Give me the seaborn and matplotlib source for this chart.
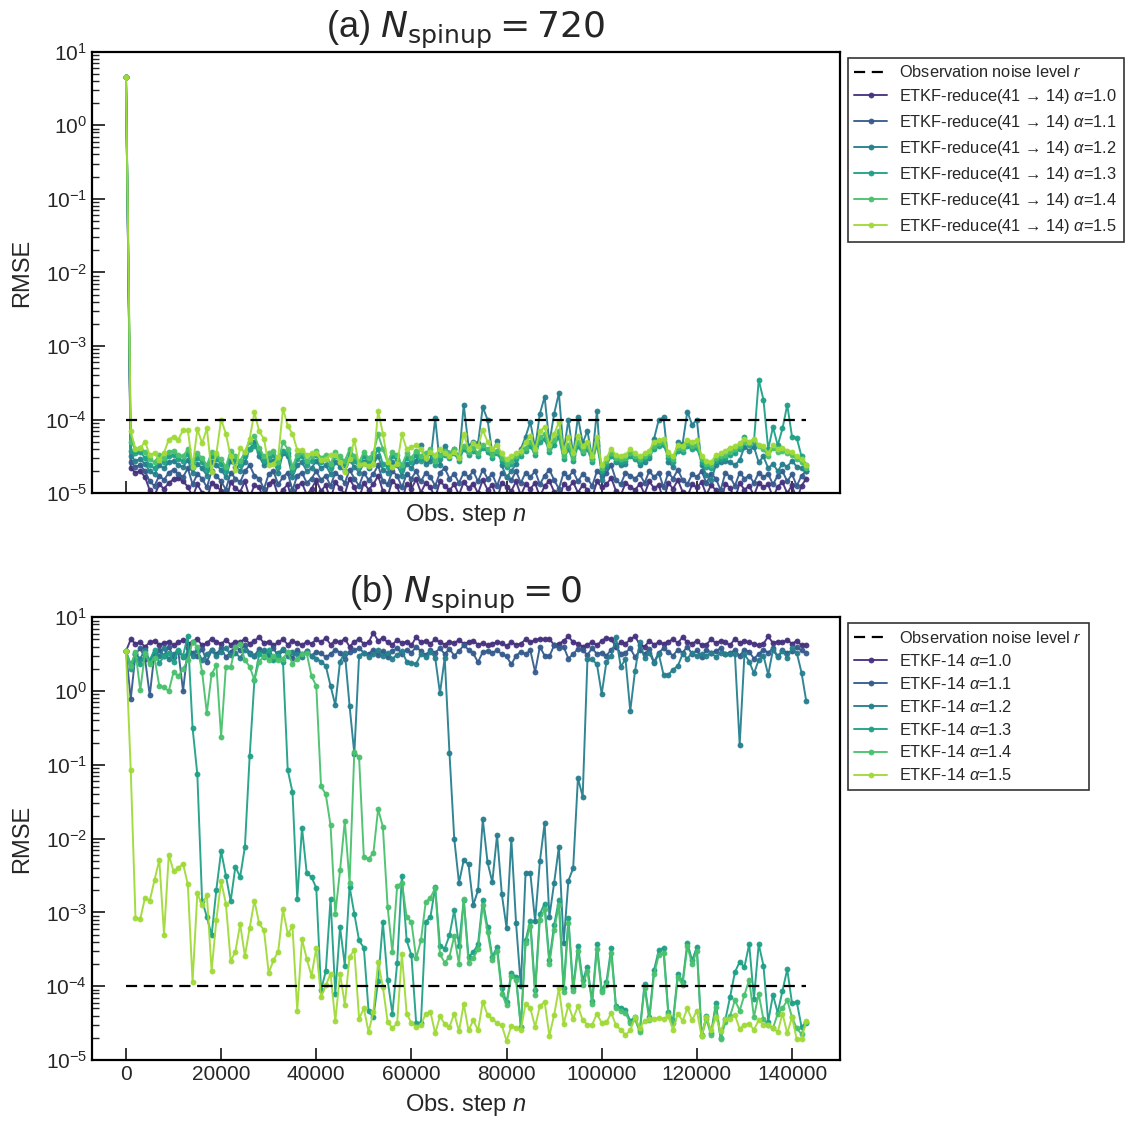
import numpy as np
import pandas as pd
import matplotlib
matplotlib.use("Agg")
import matplotlib.pyplot as plt
import seaborn as sns
from matplotlib.ticker import LogLocator, NullFormatter, FixedLocator

# ── data: log10(RMSE), one point every 1000 observation steps ────────────────
STEP = 1000
TICK_STEP = 20000
ALPHAS = [1.0, 1.1, 1.2, 1.3, 1.4, 1.5]
NOISE_LEVEL = 1e-4

# (a) N_spinup = 720, ETKF-reduce(41 -> 14)
a_10 = [0.66, -4.66, -4.72, -4.70, -4.78, -4.96, -5.03, -4.88, -4.94, -4.86, -4.81, -4.79,
        -4.84, -4.91, -5.05, -4.88, -4.99, -5.08, -4.86, -4.90, -4.97, -5.12, -4.85, -4.93,
        -4.98, -4.84, -5.06, -4.89, -4.92, -5.10, -4.87, -4.83, -5.04, -4.95, -4.88, -5.13,
        -4.90, -4.86, -5.02, -4.94, -4.82, -4.97, -4.89, -5.09, -4.85, -4.93, -5.01, -4.80,
        -4.92, -5.07, -4.86, -4.95, -4.88, -4.76, -4.97, -5.04, -4.83, -4.90, -5.11, -4.87,
        -4.94, -4.81, -4.99, -4.86, -4.92, -5.06, -4.84, -4.90, -4.96, -4.88, -5.02, -4.85,
        -4.93, -4.87, -5.00, -4.82, -4.95, -4.89, -5.08, -4.86, -4.91, -4.97, -4.84, -5.03,
        -4.88, -4.94, -4.86, -5.05, -4.90, -4.83, -4.98, -5.12, -4.87, -4.93, -4.85, -4.99,
        -4.89, -4.95, -5.06, -4.84, -4.92, -4.88, -4.79, -4.97, -5.03, -4.86, -4.91, -4.96,
        -4.87, -5.01, -4.84, -4.93, -4.89, -5.10, -4.86, -4.94, -4.82, -4.98, -5.05, -4.88,
        -4.92, -4.85, -5.02, -4.89, -4.96, -5.14, -4.87, -4.93, -5.08, -4.86, -4.95, -4.90,
        -5.03, -4.86, -4.92, -4.88, -5.06, -4.91, -4.85, -5.00, -4.89, -5.09, -4.90, -4.80]
a_11 = [0.66, -4.58, -4.64, -4.62, -4.70, -4.84, -4.90, -4.76, -4.82, -4.72, -4.68, -4.74,
        -4.78, -4.66, -4.88, -4.74, -4.80, -4.92, -4.70, -4.76, -4.84, -4.95, -4.72, -4.80,
        -4.85, -4.70, -4.62, -4.76, -4.80, -4.94, -4.74, -4.70, -4.88, -4.78, -4.72, -4.96,
        -4.76, -4.72, -4.86, -4.80, -4.70, -4.82, -4.76, -4.90, -4.72, -4.78, -4.86, -4.68,
        -4.80, -4.90, -4.72, -4.82, -4.74, -4.62, -4.84, -4.88, -4.70, -4.76, -4.92, -4.74,
        -4.80, -4.70, -4.84, -4.72, -4.78, -4.90, -4.72, -4.66, -4.80, -4.74, -4.86, -4.72,
        -4.78, -4.70, -4.84, -4.68, -4.80, -4.74, -4.90, -4.72, -4.78, -4.82, -4.70, -4.86,
        -4.72, -4.78, -4.70, -4.88, -4.76, -4.68, -4.82, -4.94, -4.72, -4.78, -4.70, -4.84,
        -4.74, -4.80, -4.90, -4.70, -4.76, -4.72, -4.62, -4.82, -4.88, -4.72, -4.76, -4.80,
        -4.74, -4.86, -4.70, -4.78, -4.72, -4.92, -4.72, -4.80, -4.68, -4.82, -4.88, -4.74,
        -4.78, -4.70, -4.86, -4.74, -4.80, -4.96, -4.72, -4.78, -4.90, -4.72, -4.80, -4.76,
        -4.86, -4.72, -4.78, -4.74, -4.88, -4.76, -4.70, -4.84, -4.74, -4.90, -4.76, -4.70]
a_12 = [0.66, -4.50, -4.56, -4.54, -4.60, -4.70, -4.74, -4.62, -4.66, -4.58, -4.56, -4.62,
        -4.64, -4.55, -4.72, -4.60, -4.66, -4.76, -4.58, -4.62, -4.68, -4.78, -4.56, -4.64,
        -4.70, -4.58, -4.40, -4.30, -4.50, -4.62, -4.58, -4.56, -4.72, -4.45, -4.50, -4.78,
        -4.62, -4.58, -4.70, -4.66, -4.56, -4.66, -4.62, -4.74, -4.58, -4.64, -4.70, -4.55,
        -4.64, -4.72, -4.58, -4.66, -4.60, -4.50, -4.68, -4.72, -4.58, -4.62, -4.76, -4.60,
        -4.66, -4.56, -4.35, -4.60, -4.56, -3.98, -4.62, -4.36, -4.46, -4.40, -4.52, -3.80,
        -4.36, -4.30, -4.32, -3.83, -4.00, -4.45, -4.29, -4.62, -4.78, -4.70, -4.60, -4.40,
        -4.23, -4.03, -4.39, -3.92, -3.69, -4.32, -3.92, -3.64, -4.44, -4.00, -4.48, -3.96,
        -4.32, -4.15, -4.53, -3.88, -4.82, -4.64, -4.44, -4.57, -4.62, -4.60, -4.45, -4.52,
        -4.62, -4.58, -4.52, -4.26, -4.00, -3.97, -4.58, -4.64, -4.31, -4.33, -3.89, -4.07,
        -4.00, -4.62, -4.75, -4.82, -4.62, -4.58, -4.56, -4.58, -4.62, -4.55, -4.37, -4.42,
        -4.37, -4.58, -4.50, -4.66, -4.60, -4.70, -4.60, -4.64, -4.56, -4.64, -4.66, -4.70]
a_13 = [0.66, -4.42, -4.46, -4.44, -4.52, -4.62, -4.66, -4.55, -4.58, -4.50, -4.48, -4.54,
        -4.56, -4.47, -4.64, -4.52, -4.58, -4.68, -4.50, -4.54, -4.60, -4.70, -4.48, -4.56,
        -4.62, -4.50, -4.40, -4.36, -4.44, -4.56, -4.52, -4.48, -4.64, -4.42, -4.46, -4.70,
        -4.54, -4.50, -4.62, -4.56, -4.48, -4.58, -4.54, -4.66, -4.50, -4.56, -4.62, -4.47,
        -4.56, -4.64, -4.50, -4.58, -4.52, -4.40, -4.60, -4.64, -4.50, -4.54, -4.68, -4.52,
        -4.58, -4.48, -4.56, -4.52, -4.46, -4.62, -4.54, -4.48, -4.52, -4.46, -4.56, -4.40,
        -4.48, -4.42, -4.50, -4.38, -4.44, -4.52, -4.46, -4.56, -4.64, -4.60, -4.54, -4.50,
        -4.42, -4.36, -4.48, -4.30, -4.26, -4.44, -4.34, -4.24, -4.54, -4.40, -4.56, -4.36,
        -4.46, -4.40, -4.58, -4.34, -4.70, -4.60, -4.50, -4.56, -4.58, -4.56, -4.50, -4.54,
        -4.58, -4.54, -4.50, -4.40, -4.36, -4.34, -4.52, -4.58, -4.42, -4.44, -4.36, -4.40,
        -4.38, -4.58, -4.64, -4.66, -4.56, -4.54, -4.52, -4.48, -4.46, -4.40, -4.23, -4.35,
        -4.30, -3.46, -3.73, -4.40, -4.10, -4.35, -4.12, -3.80, -4.23, -4.25, -4.50, -4.62]
a_14 = [0.66, -4.30, -4.40, -4.38, -4.44, -4.54, -4.58, -4.48, -4.52, -4.44, -4.42, -4.48,
        -4.50, -4.40, -4.58, -4.46, -4.52, -4.62, -4.44, -4.48, -4.54, -4.64, -4.42, -4.50,
        -4.56, -4.44, -4.30, -4.22, -4.38, -4.50, -4.46, -4.42, -4.58, -4.30, -4.40, -4.64,
        -4.48, -4.44, -4.56, -4.50, -4.42, -4.52, -4.48, -4.60, -4.44, -4.50, -4.56, -4.40,
        -4.50, -4.58, -4.44, -4.52, -4.46, -4.20, -4.40, -4.58, -4.44, -4.48, -4.62, -4.46,
        -4.52, -4.42, -4.50, -4.46, -4.40, -4.56, -4.48, -4.42, -4.46, -4.40, -4.50, -4.36,
        -4.44, -4.38, -4.46, -4.34, -4.40, -4.48, -4.42, -4.52, -4.60, -4.56, -4.50, -4.46,
        -4.38, -4.30, -4.44, -4.24, -4.20, -4.40, -4.28, -4.16, -4.50, -4.34, -4.52, -4.30,
        -4.42, -4.36, -4.54, -4.30, -4.66, -4.56, -4.46, -4.52, -4.54, -4.52, -4.46, -4.50,
        -4.54, -4.50, -4.46, -4.36, -4.32, -4.30, -4.48, -4.54, -4.38, -4.40, -4.32, -4.36,
        -4.34, -4.54, -4.60, -4.62, -4.52, -4.50, -4.48, -4.44, -4.40, -4.36, -4.30, -4.32,
        -4.28, -4.36, -4.40, -4.50, -4.38, -4.44, -4.42, -4.46, -4.48, -4.54, -4.58, -4.66]
a_15 = [0.66, -4.16, -4.40, -4.39, -4.30, -4.48, -4.45, -4.55, -4.45, -4.27, -4.23, -4.27,
        -4.14, -4.14, -4.64, -4.13, -4.32, -4.12, -4.71, -4.46, -4.00, -4.19, -4.50, -4.68,
        -4.39, -4.44, -4.26, -3.90, -4.16, -4.26, -4.62, -4.60, -4.51, -3.85, -4.09, -4.19,
        -4.41, -4.41, -4.48, -4.46, -4.46, -4.55, -4.53, -4.48, -4.48, -4.57, -4.71, -4.53,
        -4.28, -4.62, -4.60, -4.63, -4.60, -3.88, -4.19, -4.57, -4.64, -4.60, -4.20, -4.40,
        -4.37, -4.35, -4.40, -4.52, -4.44, -4.48, -4.40, -4.46, -4.50, -4.44, -4.52, -4.20,
        -4.40, -4.32, -4.36, -4.14, -4.30, -4.40, -4.34, -4.46, -4.54, -4.50, -4.46, -4.42,
        -4.30, -4.22, -4.40, -4.16, -4.10, -4.34, -4.20, -4.03, -4.42, -4.24, -4.46, -4.22,
        -4.36, -4.30, -4.50, -4.24, -4.62, -4.52, -4.40, -4.48, -4.50, -4.48, -4.40, -4.46,
        -4.50, -4.46, -4.42, -4.30, -4.28, -4.26, -4.44, -4.50, -4.34, -4.36, -4.27, -4.30,
        -4.28, -4.50, -4.56, -4.58, -4.48, -4.46, -4.42, -4.38, -4.36, -4.32, -4.26, -4.30,
        -4.26, -4.34, -4.36, -4.46, -4.34, -4.40, -4.38, -4.42, -4.44, -4.50, -4.54, -4.62]

# (b) N_spinup = 0, ETKF-14
b_10 = [0.54, 0.70, 0.64, 0.66, 0.60, 0.66, 0.68, 0.63, 0.65, 0.67, 0.62, 0.66,
        0.69, 0.64, 0.67, 0.70, 0.62, 0.65, 0.71, 0.66, 0.64, 0.69, 0.63, 0.67,
        0.66, 0.71, 0.64, 0.68, 0.73, 0.65, 0.67, 0.62, 0.66, 0.70, 0.63, 0.68,
        0.65, 0.62, 0.67, 0.64, 0.70, 0.66, 0.72, 0.63, 0.68, 0.66, 0.71, 0.60,
        0.67, 0.70, 0.64, 0.66, 0.79, 0.68, 0.72, 0.66, 0.63, 0.69, 0.65, 0.67,
        0.62, 0.73, 0.66, 0.68, 0.64, 0.70, 0.66, 0.63, 0.67, 0.65, 0.69, 0.64,
        0.66, 0.68, 0.63, 0.65, 0.62, 0.64, 0.66, 0.65, 0.61, 0.66, 0.63, 0.64,
        0.70, 0.66, 0.69, 0.71, 0.70, 0.71, 0.62, 0.64, 0.68, 0.74, 0.66, 0.64,
        0.60, 0.63, 0.66, 0.62, 0.68, 0.72, 0.70, 0.60, 0.66, 0.64, 0.70, 0.74,
        0.63, 0.60, 0.68, 0.63, 0.66, 0.64, 0.67, 0.70, 0.65, 0.73, 0.66, 0.64,
        0.68, 0.62, 0.63, 0.70, 0.65, 0.68, 0.66, 0.62, 0.71, 0.65, 0.68, 0.66,
        0.64, 0.62, 0.64, 0.74, 0.65, 0.67, 0.66, 0.69, 0.64, 0.68, 0.62, 0.63]
b_11 = [0.54, -0.11, 0.50, 0.58, 0.44, -0.06, 0.52, 0.56, 0.48, 0.60, 0.46, 0.54,
        0.00, 0.58, 0.52, 0.47, 0.57, 0.40, 0.55, 0.50, 0.58, 0.46, 0.53, 0.60,
        0.56, 0.62, 0.52, 0.48, 0.57, 0.54, 0.50, 0.58, 0.47, 0.55, 0.52, 0.45,
        0.56, 0.50, 0.54, 0.48, 0.53, 0.51, 0.46, 0.50, 0.56, 0.52, 0.44, 0.53,
        0.55, 0.58, 0.52, 0.50, 0.56, 0.49, 0.54, 0.46, 0.54, 0.58, 0.50, 0.56,
        0.52, 0.60, 0.54, 0.49, 0.55, 0.52, 0.58, 0.50, 0.57, 0.48, 0.54, 0.62,
        0.56, 0.51, 0.39, 0.53, 0.54, 0.52, 0.55, 0.50, 0.47, 0.36, 0.48, 0.53,
        0.50, 0.55, 0.26, 0.60, 0.48, 0.47, 0.62, 0.58, 0.60, 0.44, 0.50, 0.57,
        0.55, 0.49, 0.58, 0.50, 0.52, 0.48, 0.56, 0.62, 0.50, 0.52, 0.58, 0.46,
        0.55, 0.50, 0.57, 0.39, 0.52, 0.58, 0.53, 0.48, 0.56, 0.52, 0.60, 0.50,
        0.55, 0.46, 0.56, 0.52, 0.54, 0.58, 0.50, 0.52, 0.55, 0.48, 0.56, 0.53,
        0.44, 0.50, 0.56, 0.52, 0.58, 0.47, 0.55, 0.52, 0.54, 0.59, 0.55, 0.52]
b_12 = [0.54, 0.36, 0.50, 0.44, 0.56, 0.40, 0.52, 0.47, 0.58, 0.43, 0.50, 0.54,
        0.46, 0.52, 0.48, 0.55, 0.42, 0.50, 0.56, 0.47, 0.53, 0.58, 0.49, 0.52,
        0.45, 0.55, 0.50, 0.47, 0.53, 0.56, 0.49, 0.44, 0.52, 0.57, 0.48, 0.53,
        0.50, 0.46, 0.54, 0.48, 0.44, 0.40, 0.34, 0.07, -0.19, 0.40, 0.52, -0.20,
        -0.85, 0.48, 0.52, 0.46, 0.50, 0.55, 0.47, 0.52, 0.44, 0.49, 0.54, 0.40,
        0.38, 0.37, 0.50, 0.46, 0.53, 0.45, -0.03, 0.45, -0.84, -2.00, -2.60, -2.29,
        -2.35, -2.90, -2.70, -1.74, -2.32, -2.59, -1.95, -2.75, -3.21, -2.00, -3.15, -4.00,
        -2.46, -2.47, -3.12, -2.31, -1.79, -3.06, -2.60, -2.11, -3.42, -2.57, -2.40, -1.18,
        -1.43, 0.43, 0.43, 0.36, -0.04, 0.40, 0.47, 0.73, 0.33, 0.43, -0.27, 0.27,
        0.66, 0.45, 0.52, 0.38, 0.50, 0.22, 0.22, 0.29, 0.34, 0.50, 0.44, 0.52,
        0.47, 0.50, 0.48, 0.52, 0.46, 0.52, 0.50, 0.50, 0.50, -0.73, 0.50, 0.40,
        0.24, 0.42, 0.48, 0.22, 0.56, 0.46, 0.54, 0.45, 0.58, 0.52, 0.25, -0.14]
b_13 = [0.54, 0.30, 0.44, 0.36, 0.50, 0.42, 0.56, 0.38, 0.47, 0.52, 0.40, 0.55,
        0.48, 0.75, -0.50, -1.13, -2.84, -3.06, -3.31, -2.69, -2.17, -2.50, -2.85, -2.38,
        -2.52, -2.11, -0.88, 0.15, 0.50, 0.46, 0.55, 0.42, 0.48, 0.40, -1.07, -1.37,
        -2.82, -1.85, -2.47, -2.52, -2.67, -4.05, -3.80, -2.82, -4.10, -3.20, -3.72, -2.65,
        -3.02, -3.38, -3.48, -4.34, -4.42, -3.93, -3.13, -3.92, -4.37, -3.69, -2.50, -3.38,
        -3.58, -4.50, -4.50, -3.13, -3.06, -2.66, -3.45, -3.49, -3.31, -2.97, -3.45, -2.83,
        -3.60, -3.54, -3.43, -2.83, -3.20, -3.60, -3.47, -4.03, -4.22, -3.82, -3.87, -4.55,
        -3.38, -3.11, -4.05, -3.02, -2.88, -3.65, -3.17, -2.83, -4.03, -3.07, -4.03, -3.45,
        -3.92, -3.74, -4.20, -3.43, -4.05, -3.94, -3.48, -4.27, -4.29, -4.32, -4.47, -4.42,
        -4.60, -3.97, -4.42, -3.78, -3.51, -3.48, -4.35, -4.46, -3.83, -3.94, -3.41, -3.65,
        -3.47, -4.66, -4.41, -4.63, -4.23, -4.70, -4.45, -4.14, -3.81, -3.67, -3.74, -3.43,
        -4.17, -3.43, -3.72, -4.48, -4.12, -4.36, -4.06, -3.77, -4.23, -4.21, -4.55, -4.50]
b_14 = [0.54, 0.34, 0.53, 0.01, 0.51, 0.37, 0.45, 0.07, 0.05, 0.00, 0.26, 0.20,
        0.30, 0.42, 0.67, 0.60, 0.26, -0.30, 0.23, 0.35, -0.62, 0.33, 0.32, 0.60,
        0.64, 0.42, 0.33, 0.15, 0.40, 0.47, 0.42, 0.47, 0.42, 0.44, 0.53, 0.37,
        0.44, 0.50, 0.51, 0.20, 0.07, -1.29, -1.40, -1.82, -3.02, -2.43, -1.76, -2.60,
        -0.82, -0.90, -2.25, -2.27, -2.20, -1.60, -1.84, -2.93, -3.54, -2.64, -2.60, -3.06,
        -3.13, -3.62, -3.38, -2.86, -2.80, -2.67, -3.57, -3.68, -3.60, -3.32, -3.70, -2.82,
        -3.68, -3.62, -3.50, -2.90, -3.26, -3.64, -3.52, -4.10, -4.26, -3.86, -3.92, -4.55,
        -3.42, -3.18, -4.12, -3.10, -2.95, -3.70, -3.24, -2.90, -4.08, -3.14, -4.07, -3.52,
        -3.98, -3.80, -4.24, -3.50, -4.08, -3.99, -3.55, -4.30, -4.33, -4.36, -4.50, -4.45,
        -4.62, -4.02, -4.46, -3.84, -3.58, -3.55, -4.38, -4.50, -3.88, -3.98, -3.46, -3.70,
        -3.52, -4.68, -4.45, -4.66, -4.28, -4.72, -4.48, -4.40, -4.19, -4.33, -4.12, -3.91,
        -4.42, -4.10, -4.45, -4.53, -4.57, -4.37, -4.30, -4.19, -4.42, -4.57, -4.65, -4.48]
b_15 = [0.54, -1.07, -3.07, -3.09, -2.80, -2.84, -2.56, -2.29, -3.30, -2.22, -2.44, -2.40,
        -2.34, -2.62, -3.94, -2.74, -2.90, -2.76, -3.79, -3.10, -2.58, -2.88, -3.66, -3.53,
        -3.16, -3.59, -3.21, -2.84, -3.15, -3.24, -3.82, -3.65, -3.53, -2.96, -3.29, -3.19,
        -4.33, -3.36, -3.63, -3.86, -3.48, -4.15, -3.99, -3.83, -4.47, -3.83, -4.25, -3.60,
        -3.51, -4.44, -4.30, -4.62, -4.35, -3.67, -4.01, -4.48, -4.57, -4.50, -3.56, -4.37,
        -4.50, -4.55, -4.53, -4.37, -4.35, -4.64, -4.41, -4.51, -4.55, -4.37, -4.61, -4.24,
        -4.60, -4.46, -4.60, -4.21, -4.39, -4.44, -4.50, -4.53, -4.74, -4.54, -4.56, -4.59,
        -4.24, -4.30, -4.55, -4.27, -4.21, -4.67, -4.39, -4.03, -4.51, -4.26, -4.44, -4.27,
        -4.46, -4.52, -4.52, -4.37, -4.50, -4.49, -4.36, -4.53, -4.59, -4.66, -4.60, -4.42,
        -4.57, -4.47, -4.45, -4.44, -4.43, -4.44, -4.41, -4.59, -4.37, -4.47, -4.30, -4.46,
        -4.33, -4.68, -4.42, -4.60, -4.42, -4.61, -4.45, -4.44, -4.39, -4.58, -4.52, -4.51,
        -4.59, -4.46, -4.52, -4.53, -4.57, -4.62, -4.37, -4.64, -4.42, -4.72, -4.71, -4.47]

PANELS = [
    {"title": r"(a) $N_{\mathrm{spinup}} = 720$",
     "series": [a_10, a_11, a_12, a_13, a_14, a_15],
     "name": "ETKF-reduce(41 \u2192 14) $\\alpha$={:.1f}"},
    {"title": r"(b) $N_{\mathrm{spinup}} = 0$",
     "series": [b_10, b_11, b_12, b_13, b_14, b_15],
     "name": "ETKF-14 $\\alpha$={:.1f}"},
]

# ── style ─────────────────────────────────────────────────────────────────────
sns.set_style("ticks")
plt.rcParams["font.family"] = ["Liberation Sans", "DejaVu Sans"]
plt.rcParams["mathtext.fontset"] = "custom"
plt.rcParams["mathtext.rm"] = "Liberation Sans"
plt.rcParams["mathtext.it"] = "Liberation Sans:italic"
plt.rcParams["mathtext.bf"] = "Liberation Sans:bold"

palette = sns.color_palette("viridis", len(ALPHAS))

fig = plt.figure(figsize=(11.27, 11.21), dpi=100)
axes = [fig.add_axes([0.0816, 0.560, 0.664, 0.394]),
        fig.add_axes([0.0816, 0.0544, 0.664, 0.395])]

for k, (ax, panel) in enumerate(zip(axes, PANELS)):
    labels = [panel["name"].format(a) for a in ALPHAS]
    frames = []
    for lab, vals in zip(labels, panel["series"]):
        vals = np.asarray(vals)
        frames.append(pd.DataFrame({"step": np.arange(len(vals)) * STEP,
                                    "rmse": 10.0 ** vals, "run": lab}))
    df = pd.concat(frames, ignore_index=True)

    sns.lineplot(data=df, x="step", y="rmse", hue="run", hue_order=labels,
                 palette=palette, marker="o", markersize=4.2, markeredgewidth=0,
                 linewidth=1.4, alpha=0.95, estimator=None, errorbar=None,
                 legend=False, ax=ax)
    run_lines = list(ax.get_lines())

    xmax = df["step"].max()
    noise, = ax.plot([0, xmax], [NOISE_LEVEL, NOISE_LEVEL], color="black",
                     linestyle=(0, (5, 3)), linewidth=1.6, zorder=5)

    ax.set_yscale("log")
    ax.set_ylim(1e-5, 1e1)
    ax.yaxis.set_major_locator(LogLocator(base=10, numticks=20))
    ax.yaxis.set_minor_locator(LogLocator(base=10, subs=np.arange(2, 10), numticks=200))
    ax.yaxis.set_minor_formatter(NullFormatter())
    ax.xaxis.set_major_locator(FixedLocator(np.arange(0, xmax + 1, TICK_STEP)))

    ax.tick_params(axis="both", which="major", direction="in", length=9, width=1.3)
    ax.tick_params(axis="y", which="minor", direction="in", length=5, width=1.0)
    ax.tick_params(axis="x", labelsize=15)
    ax.tick_params(axis="y", labelsize=15)
    for sp in ax.spines.values():
        sp.set_linewidth(1.6)
        sp.set_color("black")
    if k == 0:
        ax.tick_params(axis="x", labelbottom=False)

    ax.set_xlabel(r"Obs. step $n$", fontsize=17, labelpad=6)
    ax.set_ylabel("RMSE", fontsize=17, labelpad=9)
    ax.set_title(panel["title"], fontsize=26, pad=10, math_fontfamily="dejavusans")

    leg = ax.legend([noise] + run_lines, ["Observation noise level $r$"] + labels,
                    loc="upper left", bbox_to_anchor=(1.01, 0.986), fontsize=11.8,
                    frameon=True, fancybox=False, edgecolor="black",
                    borderaxespad=0, handlelength=2.0, handletextpad=0.75,
                    borderpad=0.4, labelspacing=0.42)
    leg.get_frame().set_linewidth(1.2)

fig.savefig("out.png", dpi=100)
